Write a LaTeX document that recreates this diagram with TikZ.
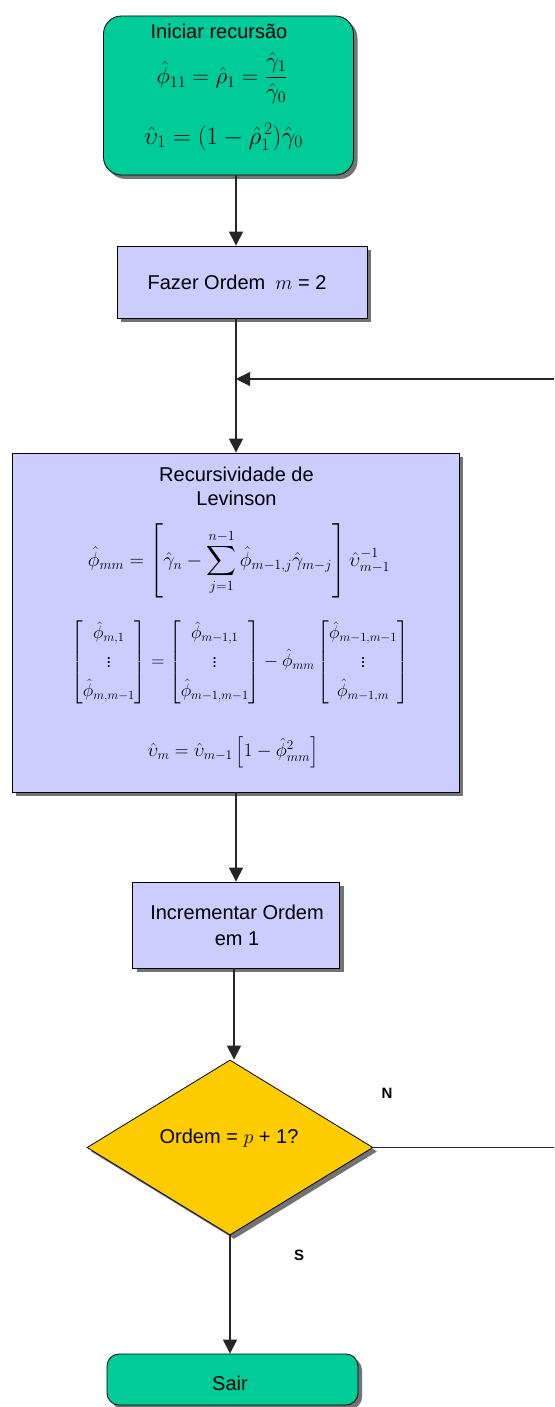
\RequirePackage{fix-cm}
\documentclass[tikz,border=0pt]{standalone}
\usepackage{amsmath}
\usepackage{fontspec}
\setmainfont{Liberation Sans}
\usetikzlibrary{shapes.geometric,arrows.meta,shadows}
\definecolor{grn}{HTML}{00CC99}
\definecolor{lav}{HTML}{CCCCFF}
\definecolor{yel}{HTML}{FFCC00}
\begin{document}
\begin{tikzpicture}[x=1pt,y=-1pt,
  shad/.style={drop shadow={shadow xshift=4pt,shadow yshift=-4pt,fill=black!55,opacity=1}},
  lavbox/.style={draw=black,line width=0.8pt,fill=lav,shad,inner sep=0pt},
  grnbox/.style={draw=black,line width=0.8pt,fill=grn,shad,inner sep=0pt,rounded corners=18pt},
  txt/.style={align=center,inner sep=0pt,font=\fontsize{20}{26}\selectfont},
  mth/.style={inner sep=0pt,font=\fontsize{#1}{#1}\selectfont},
  lbl/.style={inner sep=0pt,font=\fontsize{15}{17}\selectfont\bfseries},
  conn/.style={line width=1.1pt,draw=black!85},
  arr/.style={conn,-{Triangle[length=14pt,width=14pt]}}]
\clip (0,0) rectangle (554,1407);
\fill[white] (0,0) rectangle (554,1407);
\coordinate (spine) at (236,0);
\coordinate (spineb) at (234,0);
\coordinate (redge) at (557,0);
\coordinate (join) at (236,379);
% start
\node[grnbox,minimum width=250pt,minimum height=159pt] (start) at (228.5,95.5) {};
\node[txt] (startT) at (219,31) {Iniciar recursão};
\node[mth=23] (startE1) at (222,78) {$\hat{\phi}_{11} = \hat{\rho}_1 = \dfrac{\hat{\gamma}_1}{\hat{\gamma}_0}$};
\node[mth=25] (startE2) at (223.5,137) {$\hat{\upsilon}_1 = (1-\hat{\rho}_1^{\,2})\hat{\gamma}_0$};
% box 2
\node[lavbox,minimum width=250pt,minimum height=72pt] (box2) at (242,282) {};
\node[txt] (box2T) at (237,282) {Fazer Ordem\enspace$m$ = 2};
% box 3
\node[lavbox,minimum width=447pt,minimum height=339pt] (box3) at (235.5,622.5) {};
\node[txt,font=\fontsize{20}{24}\selectfont] (box3T) at (236.5,486) {Recursividade de\\Levinson};
\node[mth=20] (box3E1) at (239,561) {$\displaystyle \hat{\phi}_{mm} = \left[\hat{\gamma}_n - \sum_{j=1}^{n-1}\hat{\phi}_{m-1,j}\hat{\gamma}_{m-j}\right]\hat{\upsilon}_{m-1}^{-1}$};
\node[mth=18] (box3E2) at (240,662) {\renewcommand{\arraystretch}{1.6}$\begin{bmatrix}\hat{\phi}_{m,1}\\ \vdots\\ \hat{\phi}_{m,m-1}\end{bmatrix}
  = \begin{bmatrix}\hat{\phi}_{m-1,1}\\ \vdots\\ \hat{\phi}_{m-1,m-1}\end{bmatrix}
  - \hat{\phi}_{mm}\begin{bmatrix}\hat{\phi}_{m-1,m-1}\\ \vdots\\ \hat{\phi}_{m-1,m}\end{bmatrix}$};
\node[mth=19] (box3E3) at (233,752) {$\hat{\upsilon}_m = \hat{\upsilon}_{m-1}\left[1-\hat{\phi}_{mm}^2\right]$};
% box 4
\node[lavbox,minimum width=207pt,minimum height=86pt] (box4) at (236,925) {};
\node[txt] (box4T) at (237,925) {Incrementar Ordem\\em 1};
% decision
\node[diamond,draw=black,line width=0.8pt,fill=yel,shad,inner sep=0pt,
  minimum width=286pt,minimum height=175pt] (dec) at (230,1147.5) {};
\node[txt] (decT) at (229,1138) {Ordem = $p$ + 1?};
% exit
\node[grnbox,rounded corners=12pt,minimum width=251pt,minimum height=51pt] (sair) at (232.5,1379.5) {};
\node[txt] (sairT) at (230,1383) {Sair};
% labels
\node[lbl] (N) at (387,1093) {N};
\node[lbl] (S) at (299,1255) {S};
% connectors
\draw[arr] (start.south -| spine) -- (box2.north -| spine);
\draw[arr] (box2.south -| spine) -- (box3.north -| spine);
\draw[arr] (box3.south -| spine) -- (box4.north -| spine);
\draw[arr] (box4.south -| spineb) -- (dec.north -| spineb);
\draw[arr] (dec.south) -- (sair.north -| dec.south);
\draw[arr] (dec.east) -- (dec.east -| redge) |- (join);
\end{tikzpicture}
\end{document}
